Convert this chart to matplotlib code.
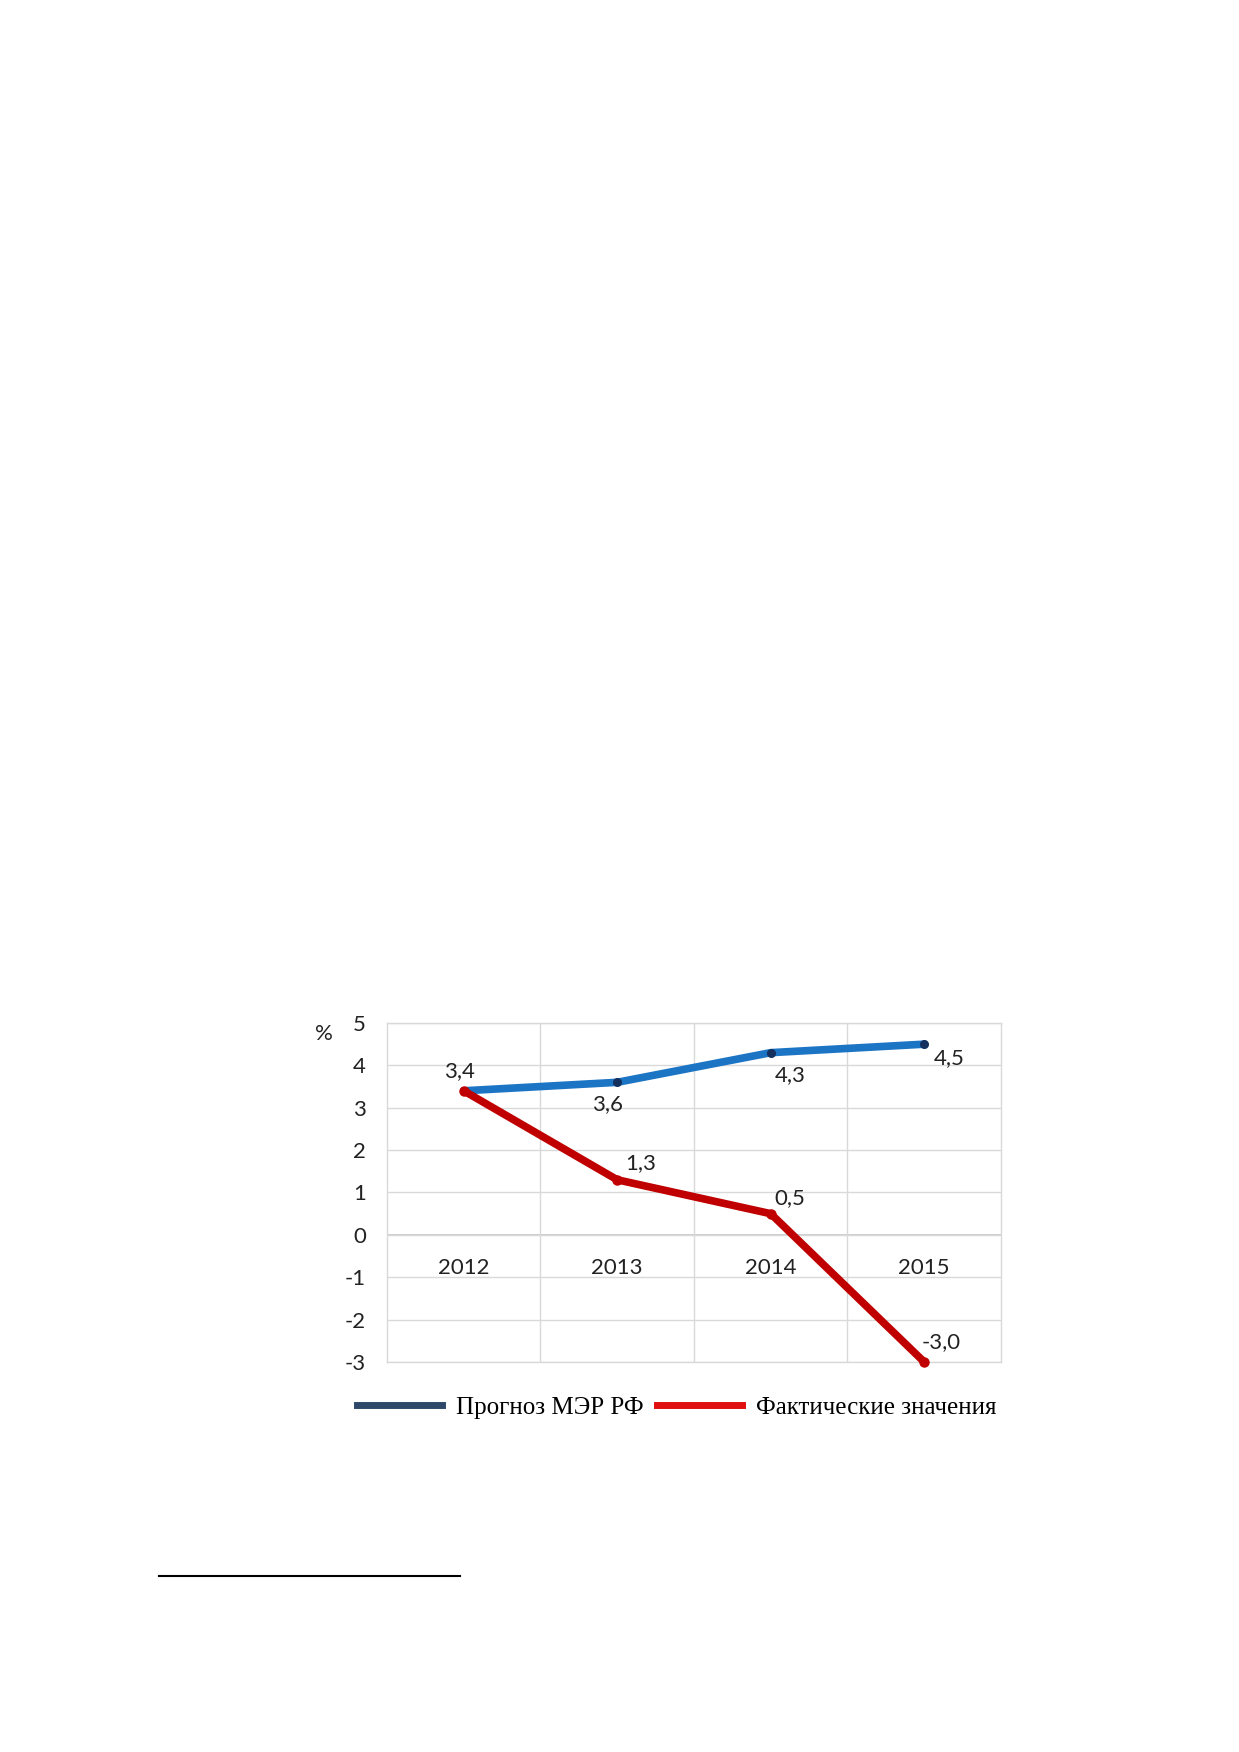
import matplotlib
matplotlib.use('Agg')
import matplotlib.pyplot as plt
from matplotlib.lines import Line2D

# chart data
years = ['2012', '2013', '2014', '2015']
forecast = [3.4, 3.6, 4.3, 4.5]
actual = [3.4, 1.3, 0.5, -3.0]
forecast_labels = ['3,4', '3,6', '4,3', '4,5']
actual_labels = ['', '1,3', '0,5', '-3,0']
y_ticks = [-3, -2, -1, 0, 1, 2, 3, 4, 5]
legend_names = ['Прогноз МЭР РФ', 'Фактические значения']

# label offsets in points (forecast / actual)
forecast_offsets = [(-3, 14), (-7, -16), (14, -16), (18, -10)]
actual_offsets = [(0, 0), (17, 12), (14, 11), (12, 14)]

plt.rcParams['font.family'] = ['Lato', 'DejaVu Sans']
fs = 16

fig = plt.figure(figsize=(12.39, 17.52), dpi=100)
ax = fig.add_axes([0.3123, 0.2226, 0.4956, 0.1935])

x = list(range(len(years)))
grid_color = '#d9d9d9'

ax.set_xlim(-0.5, len(years) - 0.5)
ax.set_ylim(min(y_ticks), max(y_ticks))
ax.set_yticks(y_ticks)
ax.set_yticklabels([str(t) for t in y_ticks], fontsize=fs, color='#222222')
ax.set_xticks([i + 0.5 for i in x[:-1]])
ax.set_xticklabels([])
ax.tick_params(axis='both', length=0)
ax.tick_params(axis='y', pad=15)
ax.grid(True, color=grid_color, linewidth=1.0)
ax.axhline(0, color='#c8c8c8', linewidth=1.3, zorder=1)
for side in ax.spines.values():
    side.set_color(grid_color)
    side.set_linewidth(1.0)

# forecast line (blue) and actual (red)
ax.plot(x, forecast, color='#1c74c4', linewidth=5.5, solid_capstyle='round', zorder=3,
        clip_on=False)
ax.plot(x, forecast, linestyle='none', marker='o', markersize=5.5, color='#14305e', zorder=4,
        clip_on=False)
ax.plot(x, actual, color='#c00000', linewidth=5.5, solid_capstyle='round',
        solid_joinstyle='round', zorder=5, clip_on=False)
ax.plot(x, actual, linestyle='none', marker='o', markersize=6.5, color='#c00000', zorder=6,
        clip_on=False)

for i, (v, lab) in enumerate(zip(forecast, forecast_labels)):
    ax.annotate(lab, (i, v), xytext=forecast_offsets[i], textcoords='offset points',
                ha='center', va='center', fontsize=fs, color='#222222', zorder=7)
for i, (v, lab) in enumerate(zip(actual, actual_labels)):
    if lab:
        ax.annotate(lab, (i, v), xytext=actual_offsets[i], textcoords='offset points',
                    ha='center', va='center', fontsize=fs, color='#222222', zorder=7)

# year labels just below the zero line
for i, yr in enumerate(years):
    ax.annotate(yr, (i, 0), xytext=(0, -24), textcoords='offset points',
                ha='center', va='center', fontsize=fs, color='#222222')

fig.text(324 / 1239, 1 - 1034 / 1752, '%', fontsize=fs, ha='center', va='center',
         color='#222222')

handles = [Line2D([], [], color='#2e4a6b', linewidth=5),
           Line2D([], [], color='#e01010', linewidth=5)]
fig.legend(handles, legend_names, loc='center', bbox_to_anchor=(0.5464, 0.1965), ncol=2,
           frameon=False, handlelength=3.4, handletextpad=0.55, columnspacing=0.55,
           prop={'family': 'Liberation Serif', 'size': 18})

# footnote separator line
fig.add_artist(Line2D([159 / 1239, 460 / 1239], [1 - 1576 / 1752, 1 - 1576 / 1752],
                      color='black', linewidth=1.5))

fig.savefig('out.png', dpi=100, facecolor='white')
